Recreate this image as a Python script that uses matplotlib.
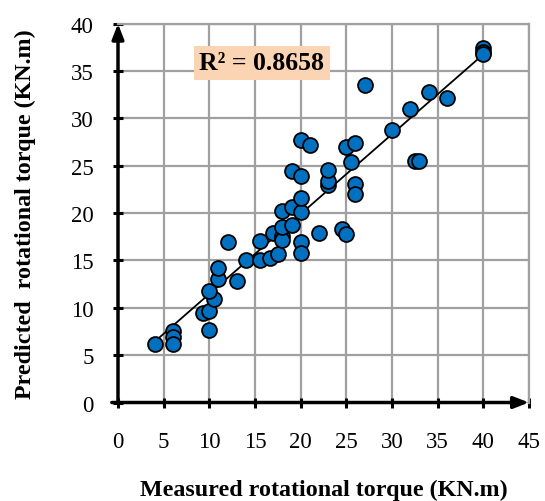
import numpy as np
import matplotlib
matplotlib.use("Agg")
import matplotlib.pyplot as plt

# Measured vs predicted rotational torque (KN.m)
measured = [4, 6, 6, 6, 9.3, 10, 10, 10.5, 10, 10.9,
            11, 12, 13, 14, 15.5, 15.5, 16.6, 17, 17.5, 18,
            18, 18, 18, 19, 19, 19, 20, 20, 20, 20,
            20, 20, 21, 22, 23, 23, 23, 24.5, 25, 25,
            25.5, 26, 26, 26, 27, 30, 32, 32.5, 33, 34,
            36, 40, 40, 40]
predicted = [6.2, 7.5, 6.9, 6.2, 9.4, 9.7, 7.7, 10.9, 11.8, 13.0,
             14.2, 17.0, 12.8, 15.0, 15.0, 17.1, 15.3, 17.9, 15.7, 17.6,
             17.2, 18.5, 20.2, 18.7, 20.6, 24.4, 23.9, 20.1, 21.6, 17.0,
             15.8, 27.7, 27.2, 17.9, 23.0, 23.4, 24.5, 18.3, 17.8, 27.0,
             25.4, 27.4, 23.1, 22.0, 33.5, 28.8, 31.0, 25.5, 25.5, 32.8,
             32.2, 37.4, 37.0, 36.8]
r2_text = "R² = 0.8658"

x_ticks = np.arange(0, 46, 5)
y_ticks = np.arange(0, 41, 5)

plt.rcParams['font.family'] = ['Liberation Serif', 'DejaVu Serif']

fig = plt.figure(figsize=(5.45, 5.02), dpi=100)
ax = fig.add_axes([0.2165, 0.1962, 0.7541, 0.7546])

ax.set_xlim(0, 45)
ax.set_ylim(0, 40)
ax.set_xticks(x_ticks)
ax.set_yticks(y_ticks)
ax.grid(True, color='#a0a0a0', linewidth=1.6)
ax.set_axisbelow(True)

for side in ['top', 'right']:
    ax.spines[side].set_color('#a0a0a0')
    ax.spines[side].set_linewidth(1.6)
for side in ['left', 'bottom']:
    ax.spines[side].set_visible(False)

# axes drawn as arrows
ax.annotate('', xy=(0, 1.0), xytext=(0, 0), xycoords='axes fraction',
            arrowprops=dict(arrowstyle='-|>,head_length=0.9,head_width=0.35',
                            color='black', lw=2.5, shrinkA=0, shrinkB=0), zorder=5)
ax.annotate('', xy=(1.0, 0), xytext=(-0.015, 0), xycoords='axes fraction',
            arrowprops=dict(arrowstyle='-|>,head_length=0.9,head_width=0.35',
                            color='black', lw=2.5, shrinkA=0, shrinkB=0), zorder=5)

ax.tick_params(axis='both', direction='inout', length=7, width=2.2, color='black',
               labelsize=16.5)
ax.tick_params(axis='x', pad=17)
ax.tick_params(axis='y', pad=14)

# linear trend line
coef = np.polyfit(measured, predicted, 1)
xs = np.array([min(measured), max(measured)])
ax.plot(xs, np.polyval(coef, xs), color='black', linewidth=1.3, zorder=3)

ax.scatter(measured, predicted, s=115, color='#0070c0', edgecolor='black',
           linewidth=1.3, zorder=4)

ax.text(15.75, 35.85, r2_text, fontsize=18.5, fontweight='bold', ha='center', va='center',
        bbox=dict(boxstyle='square,pad=0.22', facecolor='#fbd4b4', edgecolor='none'), zorder=6)

ax.set_xlabel('Measured rotational torque (KN.m)', fontsize=17.3, fontweight='bold', labelpad=19)
ax.set_ylabel('Predicted  rotational torque (KN.m)', fontsize=17.3, fontweight='bold', labelpad=25)

fig.savefig('out.png', dpi=100)
